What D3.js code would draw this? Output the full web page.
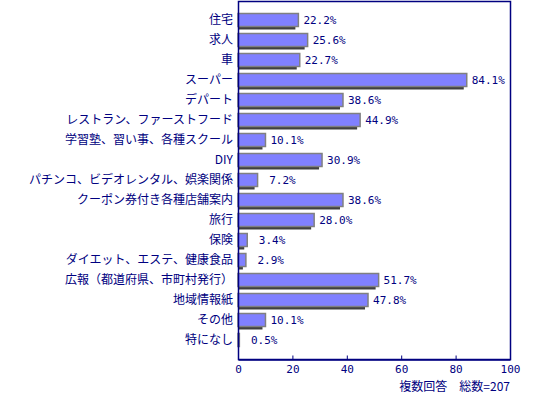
<!DOCTYPE html>
<html lang="ja">
<head>
<meta charset="UTF-8">
<title>複数回答</title>
<style>
    body { margin: 0; background: #fff; }
    svg { display: block; }
    .cat { font-family: "Noto Sans CJK JP", sans-serif; font-size: 12px; fill: #000080; }
    .num { font-family: "DejaVu Sans Mono", monospace; font-size: 11px; fill: #000080; white-space: pre; }
</style>
</head>
<body>
<div id="chart"></div>
<script src="https://d3js.org/d3.v7.min.js"></script>
<script>
    const categories = [
        "住宅", "求人", "車", "スーパー", "デパート",
        "レストラン、ファーストフード", "学習塾、習い事、各種スクール", "DIY",
        "パチンコ、ビデオレンタル、娯楽関係", "クーポン券付き各種店舗案内", "旅行", "保険",
        "ダイエット、エステ、健康食品", "広報（都道府県、市町村発行）", "地域情報紙",
        "その他", "特になし"
    ];
    const values = [22.2, 25.6, 22.7, 84.1, 38.6, 44.9, 10.1, 30.9, 7.2, 38.6, 28.0, 3.4, 2.9, 51.7, 47.8, 10.1, 0.5];
    const xTicks = [0, 20, 40, 60, 80, 100];
    const note = "複数回答　総数=207";

    const width = 550, height = 400;
    const plotLeft = 238, plotRight = 510, plotTop = 1, plotBottom = 359;

    const svg = d3.select("#chart").append("svg")
        .attr("width", width)
        .attr("height", height);

    const x = d3.scaleLinear().domain([0, 100]).range([plotLeft, plotRight]);
    const y = d3.scaleBand().domain(categories).range([10, 350])
        .paddingInner(0.35).paddingOuter(0.175);

    const data = categories.map((c, i) => ({ name: c, value: values[i] }));
    const fmt = d3.format("4.1f");   // pads single digits with a space, like the original

    // shadow under each bar
    svg.selectAll("rect.shadow")
        .data(data)
        .enter().append("rect")
        .attr("class", "shadow")
        .attr("x", x(0))
        .attr("y", d => y(d.name) + 3)
        .attr("width", d => Math.max(0, x(d.value) - x(0) - 3))
        .attr("height", y.bandwidth())
        .attr("fill", "#404040");

    svg.selectAll("rect.bar")
        .data(data)
        .enter().append("rect")
        .attr("class", "bar")
        .attr("x", x(0))
        .attr("y", d => y(d.name))
        .attr("width", d => x(d.value) - x(0))
        .attr("height", y.bandwidth())
        .attr("fill", "#8080ff")
        .attr("stroke", "#808080")
        .attr("stroke-width", 1.5);

    // value labels
    svg.selectAll("text.val")
        .data(data)
        .enter().append("text")
        .attr("class", "num")
        .attr("xml:space", "preserve")
        .attr("x", d => x(d.value) + 5)
        .attr("y", d => y(d.name) + y.bandwidth() / 2)
        .attr("dy", "0.35em")
        .text(d => fmt(d.value) + "%");

    // category labels
    svg.selectAll("text.cat")
        .data(data)
        .enter().append("text")
        .attr("class", "cat")
        .attr("x", plotLeft - 5)
        .attr("y", d => y(d.name) + y.bandwidth() / 2)
        .attr("dy", "0.35em")
        .attr("text-anchor", "end")
        .text(d => d.name);

    // frame
    svg.append("rect")
        .attr("x", plotLeft + 0.5)
        .attr("y", plotTop + 0.5)
        .attr("width", plotRight - plotLeft)
        .attr("height", plotBottom - plotTop)
        .attr("fill", "none")
        .attr("stroke", "#000080")
        .attr("stroke-width", 1.5);

    // x axis
    const axis = svg.append("g")
        .attr("transform", `translate(0,${plotBottom + 0.5})`)
        .call(d3.axisBottom(x).tickValues(xTicks).tickSizeInner(-4).tickSizeOuter(0).tickPadding(6));
    axis.select(".domain").attr("stroke", "#000080").attr("stroke-width", 1.5);
    axis.selectAll(".tick line").attr("stroke", "#000080");
    axis.selectAll(".tick text").attr("class", "num").attr("font-size", null).attr("font-family", null)
        .attr("y", 6);

    svg.append("text")
        .attr("class", "cat")
        .attr("x", plotRight)
        .attr("y", 387)
        .attr("dy", "0.35em")
        .attr("text-anchor", "end")
        .text(note);
</script>
</body>
</html>
